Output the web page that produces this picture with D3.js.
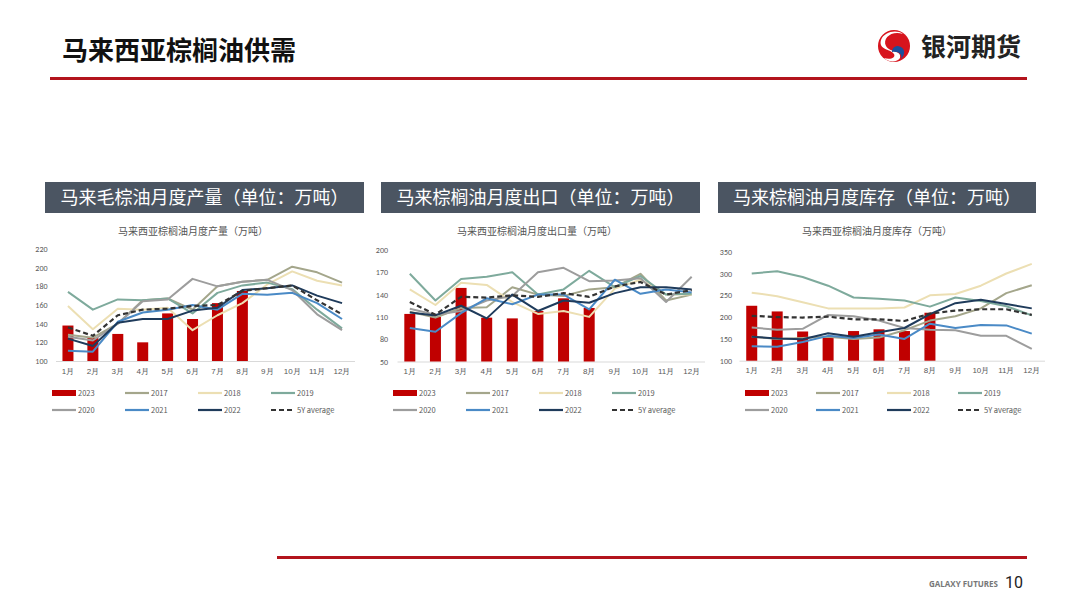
<!DOCTYPE html>
<html lang="zh">
<head>
<meta charset="UTF-8">
<title>马来西亚棕榈油供需</title>
<script src="https://d3js.org/d3.v7.min.js"></script>
<style>
  body { margin: 0; background: #fff; }
  svg { display: block; font-family: "Noto Sans CJK SC", "Noto Sans", sans-serif; }
</style>
</head>
<body>
<svg id="page" width="1080" height="608"></svg>
<script>
// months and series
const months = ["1月","2月","3月","4月","5月","6月","7月","8月","9月","10月","11月","12月"];
const seriesNames = ["2023","2017","2018","2019","2020","2021","2022","5Y average"];

// production (万吨)
const prod2023 = [138,125,129,120,151,145,162,175];
const prod2017 = [128,125,140,165,167,155,180,185,187,201,195,184];
const prod2018 = [159,134,156,155,157,133,149,162,182,196,186,181];
const prod2019 = [174,155,166,165,167,151,173,181,184,177,155,135];
const prod2020 = [126,122,140,164,166,188,180,185,187,176,150,133];
const prod2021 = [111,110,142,152,155,160,155,172,171,173,162,145];
const prod2022 = [124,116,141,145,145,154,157,176,178,181,170,162];
const prod5y   = [136,127,149,155,156,159,160,175,178,181,165,150];

// exports (万吨)
const exp2023 = [114,110,149,109,108,118,135,122];
const exp2017 = [117,109,122,123,150,140,138,147,150,168,132,140];
const exp2018 = [147,126,156,153,130,114,118,110,148,160,140,140];
const exp2019 = [168,132,161,164,170,140,147,172,150,165,140,141];
const exp2020 = [121,113,118,132,138,170,176,158,159,162,130,164];
const exp2021 = [ 95, 90,115,135,127,140,140,120,160,141,147,143];
const exp2022 = [116,112,125,108,140,118,132,129,142,150,150,147];
const exp5y   = [130,113,137,136,139,137,142,137,151,157,140,146];

// stocks (万吨)
const stk2023 = [226,213,167,154,168,172,168,210];
const stk2017 = [155,150,152,155,150,153,170,192,202,220,255,273];
const stk2018 = [256,248,234,220,220,220,222,250,253,272,300,322];
const stk2019 = [300,305,292,272,245,242,238,224,245,237,225,204];
const stk2020 = [176,171,173,205,202,192,175,171,170,157,157,127];
const stk2021 = [133,132,143,157,152,160,150,185,175,182,181,162];
const stk2022 = [155,151,149,163,155,165,175,207,232,240,230,220];
const stk5y   = [203,200,199,201,195,195,191,208,215,218,218,205];

const prodTicks = [100,120,140,160,180,200,220];
const expTicks  = [50,80,110,140,170,200];
const stkTicks  = [100,150,200,250,300,350];

const colors = {
  "2023": "#c00000", "2017": "#a4a68b", "2018": "#ecdfb3", "2019": "#7eaa9c",
  "2020": "#9d9d9d", "2021": "#4a8ac6", "2022": "#1f3b5b", "5Y average": "#333333"
};

const svg = d3.select("#page");

// header
svg.append("text").attr("x", 62).attr("y", 60)
  .attr("font-size", 26).attr("font-weight", 700).attr("fill", "#111")
  .text("马来西亚棕榈油供需");
svg.append("rect").attr("x", 50).attr("y", 77).attr("width", 977).attr("height", 3).attr("fill", "#b3141c");

// logo
const logo = svg.append("g").attr("transform", "translate(894,46)");
logo.append("circle").attr("r", 16).attr("fill", "#d7141d");
logo.append("path").attr("d", "M9,-12 C-2,-16 -12,-8 -8,0 C-4,7 8,4 6,12 C3,17 -6,16 -10,12 C-4,14 2,12 0,8 C-3,3 -16,4 -13,-6 C-10,-14 2,-17 9,-12Z")
  .attr("fill", "#fff");
logo.append("path").attr("d", "M-2,6 C4,5 9,8 7,13 C12,8 11,1 4,0 C1,0 -2,2 -2,6Z").attr("fill", "#1b4f9c");
svg.append("text").attr("x", 921).attr("y", 56)
  .attr("font-size", 25).attr("font-weight", 700).attr("fill", "#222")
  .text("银河期货");

// footer
svg.append("rect").attr("x", 277).attr("y", 556).attr("width", 750).attr("height", 3).attr("fill", "#b3141c");
svg.append("text").attr("x", 998).attr("y", 587).attr("text-anchor", "end")
  .attr("font-size", 8).attr("font-weight", 700).attr("fill", "#777")
  .attr("font-family", "'Open Sans', sans-serif").text("GALAXY FUTURES");
svg.append("text").attr("x", 1005).attr("y", 588)
  .attr("font-size", 16).attr("fill", "#222").attr("font-family", "Roboto, sans-serif").text("10");

function drawChart(cfg) {
  const g = svg.append("g");

  // header box
  g.append("rect").attr("x", cfg.box[0]).attr("y", 182).attr("width", cfg.box[1] - cfg.box[0]).attr("height", 31)
    .attr("fill", "#4b5562");
  g.append("text").attr("x", (cfg.box[0] + cfg.box[1]) / 2).attr("y", 204).attr("text-anchor", "middle")
    .attr("font-size", 18).attr("fill", "#fff").text(cfg.boxTitle);

  // chart title
  g.append("text").attr("x", cfg.titleX).attr("y", 235).attr("text-anchor", "middle")
    .attr("font-size", 10).attr("fill", "#555").text(cfg.title);

  const x = d3.scaleBand().domain(months).range(cfg.xRange);
  const y = d3.scaleLinear().domain([cfg.ticks[0], cfg.ticks[cfg.ticks.length - 1]]).range(cfg.yRange);

  // y labels
  g.append("g").attr("transform", `translate(${cfg.xRange[0]},0)`)
    .call(d3.axisLeft(y).tickValues(cfg.ticks).tickSize(0).tickPadding(cfg.labelPad))
    .call(a => a.select(".domain").remove())
    .call(a => a.selectAll("text").attr("font-size", 8).attr("fill", "#595959").attr("font-family", "Calibri, 'Liberation Sans', sans-serif"));

  // x axis
  g.append("g").attr("transform", `translate(0,${cfg.yRange[0]})`)
    .call(d3.axisBottom(x).tickSize(0).tickPadding(7))
    .call(a => a.select(".domain").attr("stroke", "#d9d9d9"))
    .call(a => a.selectAll("text").attr("font-size", 8).attr("fill", "#595959"));

  // bars
  const bw = 11;
  g.selectAll(".bar").data(cfg.bars).enter().append("rect")
    .attr("x", (d, i) => x(months[i]) + x.bandwidth() / 2 - bw / 2)
    .attr("y", d => y(d))
    .attr("width", bw)
    .attr("height", d => y(cfg.ticks[0]) - y(d))
    .attr("fill", colors["2023"]);

  const line = d3.line().x((d, i) => x(months[i]) + x.bandwidth() / 2).y(d => y(d));
  cfg.lines.forEach((vals, k) => {
    const name = seriesNames[k + 1];
    g.append("path").datum(vals).attr("d", line)
      .attr("fill", "none").attr("stroke", colors[name])
      .attr("stroke-width", name === "5Y average" ? 2.2 : 2)
      .attr("stroke-dasharray", name === "5Y average" ? "5,3" : null)
      .attr("stroke-linejoin", "round");
  });

  // legend
  seriesNames.forEach((name, i) => {
    const lx = cfg.legendX + (i % 4) * cfg.legendStep;
    const ly = i < 4 ? 393 : 410;
    if (name === "2023") {
      g.append("rect").attr("x", lx).attr("y", ly - 3).attr("width", 24).attr("height", 6).attr("fill", colors[name]);
    } else {
      g.append("line").attr("x1", lx).attr("x2", lx + 24).attr("y1", ly).attr("y2", ly)
        .attr("stroke", colors[name]).attr("stroke-width", 2.2)
        .attr("stroke-dasharray", name === "5Y average" ? "5,3" : null);
    }
    g.append("text").attr("x", lx + 26).attr("y", ly + 3)
      .attr("font-size", 7.5).attr("fill", "#595959").text(name);
  });
}

drawChart({
  box: [45, 364], boxTitle: "马来毛棕油月度产量（单位：万吨）",
  title: "马来西亚棕榈油月度产量（万吨）", titleX: 193,
  xRange: [55.5, 354.5], yRange: [361, 249], ticks: prodTicks, labelPad: 8,
  bars: prod2023, lines: [prod2017, prod2018, prod2019, prod2020, prod2021, prod2022, prod5y],
  legendX: 52, legendStep: 73
});

drawChart({
  box: [381, 700], boxTitle: "马来棕榈油月度出口（单位：万吨）",
  title: "马来西亚棕榈油月度出口量（万吨）", titleX: 537,
  xRange: [397, 704.5], yRange: [361.5, 250], ticks: expTicks, labelPad: 9,
  bars: exp2023, lines: [exp2017, exp2018, exp2019, exp2020, exp2021, exp2022, exp5y],
  legendX: 393, legendStep: 73
});

drawChart({
  box: [718, 1036], boxTitle: "马来棕榈油月度库存（单位：万吨）",
  title: "马来西亚棕榈油月度库存（万吨）", titleX: 877,
  xRange: [739, 1044.5], yRange: [360.7, 251.7], ticks: stkTicks, labelPad: 7,
  bars: stk2023, lines: [stk2017, stk2018, stk2019, stk2020, stk2021, stk2022, stk5y],
  legendX: 745, legendStep: 71
});
</script>
</body>
</html>
